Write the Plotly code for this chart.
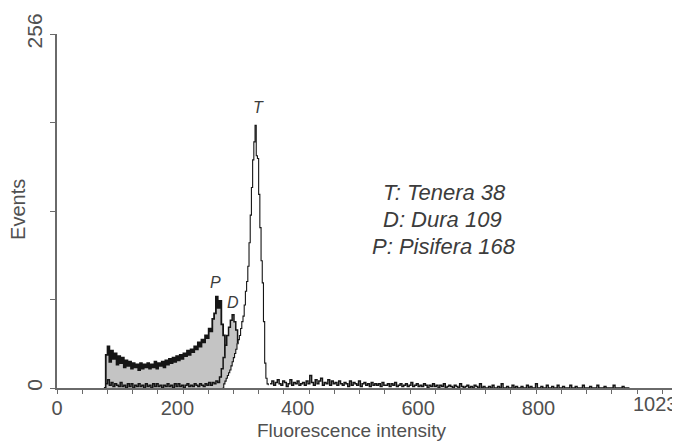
import plotly.graph_objects as go

# ---------------- data ----------------
# Pisifera (P): bins start at 78, width 3 channels
pisifera_start = 78
pisifera_step = 3
pisifera_counts = [0, 24, 30, 19, 27, 21, 25, 17, 23, 18, 22, 15, 20, 16, 19, 14, 18, 15, 17, 13,
                   18, 14, 17, 15, 18, 14, 17, 15, 19, 14, 18, 16, 19, 15, 20, 17, 21, 18, 22, 19,
                   23, 20, 24, 21, 25, 23, 27, 24, 28, 26, 30, 28, 33, 30, 35, 33, 38, 36, 43, 41,
                   50, 54, 66, 58, 63, 46, 38, 24, 12, 6, 4, 3, 2, 1, 1, 0]

# Dura (D): bins start at 78, width 3 channels
dura_start = 78
dura_step = 3
dura_counts = [0, 3, 6, 2, 4, 1, 3, 2, 1, 4, 1, 2, 0, 3, 1, 3, 0, 2, 1, 3,
               1, 2, 0, 3, 1, 2, 0, 3, 1, 3, 1, 2, 0, 2, 1, 3, 1, 2, 0, 3,
               1, 3, 1, 2, 0, 2, 3, 1, 2, 1, 3, 2, 1, 3, 2, 1, 3, 2, 4, 2,
               4, 3, 5, 4, 8, 14, 22, 31, 38, 44, 49, 53, 48, 42, 33, 20, 8, 4, 2, 1, 0]

# Tenera (T) main peak: bins start at 275, width 2 channels
tenera_start = 275
tenera_step = 2
tenera_counts = [0, 3, 5, 7, 9, 11, 13, 16, 19, 22, 25, 28, 32, 35, 38, 43, 48, 52, 60, 70,
                 77, 88, 105, 125, 145, 165, 178, 190, 168, 166, 140, 116, 92, 76, 48, 18, 7, 3, 2]

# Tenera (T) high-channel tail: bins start at 354, width 3 channels
tail_start = 354
tail_step = 3
tail_counts = [3, 5, 2, 4, 6, 3, 2, 5, 4, 1, 3, 6, 2, 4, 3, 5, 2, 3, 4, 2,
               5, 3, 9, 4, 2, 6, 3, 5, 7, 2, 4, 3, 6, 2, 5, 3, 4, 2, 5, 3,
               2, 4, 3, 1, 5, 2, 4, 3, 2, 5, 1, 3, 4, 2, 3, 1, 4, 2, 3, 2,
               3, 1, 4, 2, 2, 3, 1, 3, 2, 4, 1, 2, 3, 1, 2, 3, 1, 2, 4, 1,
               2, 3, 1, 2, 1, 3, 2, 0, 2, 1, 3, 1, 2, 0, 2, 1, 3, 0, 1, 2,
               1, 0, 2, 1, 0, 3, 1, 0, 1, 2, 0, 1, 0, 2, 1, 0, 3, 0, 1, 0,
               0, 1, 0, 2, 0, 0, 1, 0, 3, 0, 0, 1, 0, 0, 2, 0, 1, 0, 0, 1,
               0, 0, 2, 0, 1, 0, 0, 3, 0, 0, 1, 0, 0, 2, 0, 0, 1, 0, 0, 2,
               0, 0, 1, 0, 0, 0, 2, 0, 0, 1, 0, 0, 0, 2, 0, 0, 0, 1, 0, 0,
               0, 2, 0, 0, 0, 1, 0, 0, 0, 0, 2, 0, 0, 0, 0, 1, 0, 0, 0, 0]

x_tick_values = [0, 200, 400, 600, 800]
x_tick_labels = ["0", "200", "400", "600", "800"]
x_last_label = "1023"
y_tick_values = [0, 64, 128, 192, 256]
y_tick_labels = ["0", "", "", "", "256"]

legend_lines = ["T: Tenera 38", "D: Dura 109", "P: Pisifera 168"]
peak_letters = ["T", "P", "D"]


def channels(start, step, counts):
    return [start + step * i for i in range(len(counts))]


FONT = "Liberation Sans, Arial, sans-serif"
LINE = "#151515"
GRAY = "#c4c4c4"
AXIS = "#6a6a6a"
TEXT = "#505050"

fig = go.Figure()

fig.add_trace(go.Scatter(
    x=channels(pisifera_start, pisifera_step, pisifera_counts), y=pisifera_counts,
    mode="lines", line=dict(color=LINE, width=1.8, shape="hv"),
    fill="tozeroy", fillcolor=GRAY, name="Pisifera", showlegend=False))

fig.add_trace(go.Scatter(
    x=channels(dura_start, dura_step, dura_counts), y=dura_counts,
    mode="lines", line=dict(color=LINE, width=1.5, shape="hv"),
    fill="tozeroy", fillcolor=GRAY, name="Dura", showlegend=False))

fig.add_trace(go.Scatter(
    x=channels(tenera_start, tenera_step, tenera_counts), y=tenera_counts,
    mode="lines", line=dict(color=LINE, width=1.1, shape="hv"),
    fill="tozeroy", fillcolor="white", name="Tenera", showlegend=False))

fig.add_trace(go.Scatter(
    x=channels(tail_start, tail_step, tail_counts), y=tail_counts,
    mode="lines", line=dict(color=LINE, width=1.5, shape="hv"),
    name="Tenera tail", showlegend=False))

annotations = []
# legend text block
legend_pos = [(538, 141.7), (538, 121.5), (520, 102)]
for txt, (ax, ay) in zip(legend_lines, legend_pos):
    annotations.append(dict(x=ax, y=ay, xref="x", yref="y", text="<i>%s</i>" % txt,
                            showarrow=False, xanchor="left", yanchor="middle",
                            font=dict(family=FONT, size=22, color="#3c3c3c")))
# peak letters
peak_pos = [(335.5, 202.5), (264, 76), (292, 62)]
for txt, (ax, ay) in zip(peak_letters, peak_pos):
    annotations.append(dict(x=ax, y=ay, xref="x", yref="y", text="<i>%s</i>" % txt,
                            showarrow=False, xanchor="center", yanchor="middle",
                            font=dict(family=FONT, size=16, color="#3c3c3c")))
# last x label
annotations.append(dict(x=1.0, y=0, xref="paper", yref="paper", text=x_last_label, showarrow=False,
                        xanchor="right", yanchor="top", yshift=-3,
                        font=dict(family=FONT, size=20, color=TEXT)))
# axis titles
annotations.append(dict(x=0.4735, y=-0.124, xref="paper", yref="paper", yshift=1,
                        text="Fluorescence intensity", showarrow=False,
                        xanchor="center", yanchor="middle",
                        font=dict(family=FONT, size=19, color=TEXT)))
annotations.append(dict(x=0, y=0.503, xref="paper", yref="paper", xshift=-39,
                        text="Events", showarrow=False, textangle=-90,
                        xanchor="center", yanchor="middle",
                        font=dict(family=FONT, size=20, color=TEXT)))

# the page places the figure 8 px in from the top-left corner, so the figure
# is 8 px smaller and its margins are reduced to match the reference layout
fig.update_layout(
    width=672, height=433,
    margin=dict(l=49, r=0, t=26, b=53, autoexpand=False),
    paper_bgcolor="white", plot_bgcolor="white",
    annotations=annotations,
    xaxis=dict(range=[0, 1035], showgrid=False, zeroline=False, automargin=False,
               showline=True, linecolor=AXIS, linewidth=1.6,
               tickmode="array", tickvals=x_tick_values, ticktext=x_tick_labels,
               ticks="outside", ticklen=1, tickcolor="rgba(0,0,0,0)",
               tickfont=dict(family=FONT, size=20, color=TEXT),
               minor=dict(tick0=0, dtick=41.9, ticks="outside", ticklen=4,
                          tickcolor=AXIS, tickwidth=1.2, showgrid=False)),
    yaxis=dict(range=[0, 256], showgrid=False, zeroline=False, automargin=False,
               showline=True, linecolor=AXIS, linewidth=1.6,
               tickmode="array", tickvals=y_tick_values, ticktext=y_tick_labels,
               ticks="outside", ticklen=5, tickcolor=AXIS, tickwidth=1.4,
               tickangle=-90,
               tickfont=dict(family=FONT, size=21, color=TEXT)),
)

fig.write_html("out.html")
